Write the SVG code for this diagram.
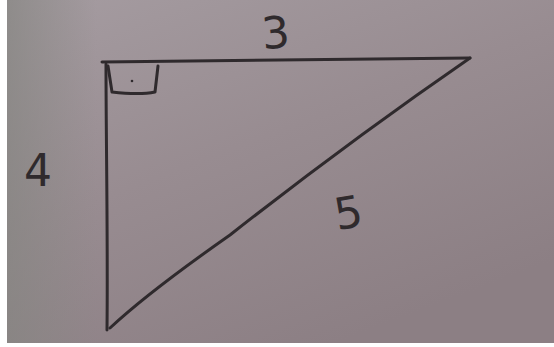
<svg xmlns="http://www.w3.org/2000/svg" width="554" height="347" viewBox="0 0 554 347">
<defs>
<linearGradient id="bg" x1="0" y1="0" x2="0.6" y2="1">
<stop offset="0" stop-color="#a59ca1"/>
<stop offset="0.5" stop-color="#988c91"/>
<stop offset="1" stop-color="#8c7f84"/>
</linearGradient>
<linearGradient id="lf" x1="0" y1="0" x2="1" y2="0">
<stop offset="0" stop-color="#858581" stop-opacity="0.7"/>
<stop offset="1" stop-color="#858581" stop-opacity="0"/>
</linearGradient>
</defs>
<style>
.ln{fill:none;stroke:#2f2a2d;stroke-width:3;stroke-linecap:round;stroke-linejoin:round}
.lb{font-family:"DejaVu Sans",sans-serif;fill:#2f2a2d;font-size:44px}
</style>
<rect width="554" height="347" fill="#ffffff"/>
<rect x="7" y="0" width="547" height="343" fill="url(#bg)"/>
<rect x="7" y="0" width="90" height="343" fill="url(#lf)"/>
<g id="triangle">
<path class="ln" d="M102,62 L470,58"/>
<path class="ln" d="M106,64 C106,140 108,240 107,330"/>
<path class="ln" d="M470,58 C380,120 300,180 230,235 C180,270 140,300 110,328"/>
</g>
<g id="right-angle">
<path class="ln" d="M108,66 L112,92 C130,94 145,94 155,92 L158,66" stroke-width="2.5"/>
<circle cx="132" cy="81" r="1.3" fill="#2f2a2d"/>
</g>
<g id="label-3"><text class="lb" x="276" y="48" text-anchor="middle" transform="rotate(-5 276 38)">3</text></g>
<g id="label-4"><text class="lb" x="38" y="186" text-anchor="middle">4</text></g>
<g id="label-5"><text class="lb" x="348" y="228" text-anchor="middle" transform="rotate(-10 348 210)">5</text></g>
</svg>
